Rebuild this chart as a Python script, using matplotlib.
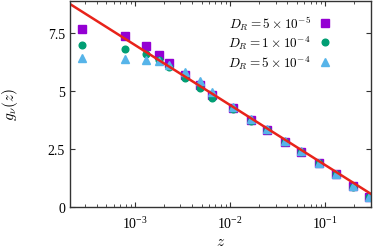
import matplotlib
matplotlib.use('Agg')
import matplotlib.pyplot as plt
from matplotlib.font_manager import FontProperties
from matplotlib.ticker import LogLocator, NullFormatter, FixedLocator

plt.rcParams['font.family'] = ['Liberation Serif', 'DejaVu Serif']
plt.rcParams['mathtext.fontset'] = 'stix'

z = [2.75e-4, 7.85e-4, 1.31e-3, 1.80e-3, 2.30e-3, 3.35e-3, 4.8e-3, 6.5e-3,
     1.06e-2, 1.65e-2, 2.45e-2, 3.76e-2, 5.6e-2, 8.6e-2, 0.129, 0.193, 0.287]
g_5e5 = [7.69, 7.37, 6.96, 6.55, 6.20, 5.67, 5.27, 4.81,
         4.26, 3.76, 3.32, 2.82, 2.39, 1.90, 1.42, 0.89, 0.42]
g_1e4 = [6.99, 6.82, 6.58, 6.32, 6.04, 5.56, 5.12, 4.69,
         4.23, 3.72, 3.30, 2.80, 2.38, 1.89, 1.41, 0.88, 0.41]
g_5e4 = [6.41, 6.38, 6.33, 6.28, 6.10, 5.82, 5.41, 4.95,
         4.32, 3.80, 3.34, 2.83, 2.40, 1.91, 1.42, 0.89, 0.42]

fit_z = [2.07e-4, 0.302]
fit_g = [8.75, 0.56]

fig = plt.figure(figsize=(3.74, 2.53), dpi=100)
ax = fig.add_axes([0.187, 0.178, 0.805, 0.816])

ax.plot(z, g_5e5, 's', color='#9400d3', markersize=6.2, linestyle='none',
        label=r'$D_R = 5\times10^{-5}$')
ax.plot(z, g_1e4, 'o', color='#009e73', markersize=4.8, linestyle='none',
        label=r'$D_R = 1\times10^{-4}$')
ax.plot(z, g_5e4, '^', color='#56b4e9', markersize=5.5, linestyle='none',
        label=r'$D_R = 5\times10^{-4}$')
ax.plot(fit_z, fit_g, '-', color='#e8231a', linewidth=1.8)

ax.set_xscale('log')
ax.set_xlim(fit_z[0], fit_z[1])
ax.set_ylim(0, 8.9)
ax.yaxis.set_major_locator(FixedLocator([0, 2.5, 5, 7.5]))
ax.set_yticklabels(['0', '2.5', '5', '7.5'])
ax.xaxis.set_major_locator(LogLocator(base=10, numticks=10))
ax.xaxis.set_minor_locator(LogLocator(base=10, subs=range(2, 10), numticks=10))
ax.xaxis.set_minor_formatter(NullFormatter())

ax.tick_params(which='both', direction='in', top=True, right=True,
               labelsize=10, color='#333333')
ax.tick_params(which='major', length=3.5, width=0.8)
ax.tick_params(which='minor', length=2, width=0.6)
ax.tick_params(axis='x', which='major', pad=6)
for s in ax.spines.values():
    s.set_color('#333333')
    s.set_linewidth(1.0)

lab_font = FontProperties(family='Liberation Serif', size=11, math_fontfamily='cm')
ax.set_xlabel(r'$z$', fontproperties=lab_font, labelpad=3)
ax.set_ylabel(r'$g_\nu(z)$', fontproperties=lab_font, labelpad=20)

leg_font = FontProperties(family='Liberation Serif', size=9.5, math_fontfamily='cm')
ax.legend(loc='upper right', markerfirst=False, frameon=False, prop=leg_font,
          handlelength=0.8, handletextpad=0.7, labelspacing=0.15,
          bbox_to_anchor=(0.905, 0.995))

fig.savefig('out.png', dpi=100)
